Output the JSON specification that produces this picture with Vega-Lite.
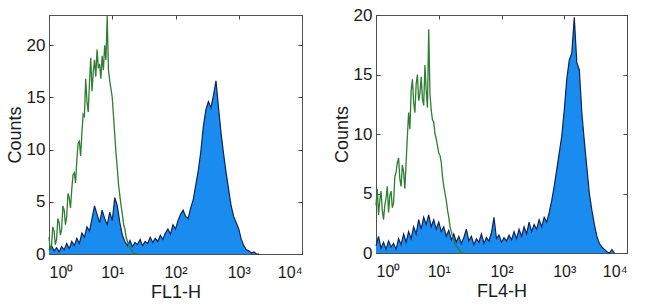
{
  "$schema": "https://vega.github.io/schema/vega-lite/v6.json",
  "padding": {"left": 5, "top": 5, "right": 5, "bottom": 0},
  "background": "white",
  "config": {
    "view": {"stroke": "#505050", "strokeWidth": 1},
    "font": "Liberation Sans",
    "axis": {
      "grid": false,
      "domain": false,
      "tickSize": -4,
      "tickColor": "#444444",
      "labelFont": "Liberation Sans",
      "labelFontSize": 17,
      "labelColor": "#1a1a1a",
      "titleFont": "Liberation Sans",
      "titleFontSize": 18,
      "titleFontWeight": "normal",
      "titleColor": "#1a1a1a"
    },
    "axisLeft": {"labelPadding": 8, "titlePadding": 2, "minExtent": 0},
    "axisBottom": {"labelPadding": 14, "titlePadding": 3, "labelFontSize": 16, "minExtent": 0},
    "axisTop": {"minExtent": 0, "maxExtent": 0},
    "axisRight": {"minExtent": 0, "maxExtent": 0}
  },
  "datasets": {
    "fl1_stained": [
      {"e":0.00,"n":0.4},{"e":0.04,"n":0.8},{"e":0.08,"n":0.3},{"e":0.12,"n":0.6},{"e":0.16,"n":0.2},{"e":0.20,"n":0.7},{"e":0.24,"n":0.4},{"e":0.28,"n":1.0},{"e":0.32,"n":0.5},{"e":0.36,"n":1.2},{"e":0.40,"n":0.8},{"e":0.44,"n":1.5},{"e":0.48,"n":1.0},{"e":0.52,"n":2.0},{"e":0.56,"n":1.6},{"e":0.60,"n":2.6},{"e":0.64,"n":2.2},{"e":0.68,"n":3.4},{"e":0.72,"n":4.6},{"e":0.76,"n":3.8},{"e":0.80,"n":3.0},{"e":0.84,"n":4.2},{"e":0.88,"n":3.4},{"e":0.92,"n":2.8},{"e":0.96,"n":4.0},{"e":1.00,"n":3.2},{"e":1.04,"n":5.4},{"e":1.08,"n":4.6},{"e":1.12,"n":3.0},{"e":1.16,"n":1.8},{"e":1.20,"n":1.2},{"e":1.24,"n":0.8},{"e":1.28,"n":1.3},{"e":1.32,"n":0.7},{"e":1.36,"n":1.1},{"e":1.40,"n":0.9},{"e":1.44,"n":1.4},{"e":1.48,"n":0.8},{"e":1.52,"n":1.2},{"e":1.56,"n":1.0},{"e":1.60,"n":1.6},{"e":1.64,"n":1.1},{"e":1.68,"n":1.5},{"e":1.72,"n":1.2},{"e":1.76,"n":1.8},{"e":1.80,"n":1.4},{"e":1.84,"n":2.0},{"e":1.88,"n":2.4},{"e":1.92,"n":1.9},{"e":1.96,"n":2.8},{"e":2.00,"n":2.4},{"e":2.04,"n":3.2},{"e":2.08,"n":3.8},{"e":2.12,"n":4.2},{"e":2.16,"n":3.6},{"e":2.20,"n":3.4},{"e":2.24,"n":4.4},{"e":2.28,"n":5.2},{"e":2.32,"n":6.6},{"e":2.36,"n":8.0},{"e":2.40,"n":9.8},{"e":2.44,"n":12.2},{"e":2.48,"n":13.8},{"e":2.52,"n":14.6},{"e":2.56,"n":14.0},{"e":2.60,"n":15.2},{"e":2.64,"n":16.6},{"e":2.68,"n":14.0},{"e":2.72,"n":11.6},{"e":2.76,"n":9.6},{"e":2.80,"n":7.8},{"e":2.84,"n":6.2},{"e":2.88,"n":4.6},{"e":2.92,"n":3.6},{"e":2.96,"n":3.0},{"e":3.00,"n":2.4},{"e":3.04,"n":1.4},{"e":3.08,"n":0.8},{"e":3.12,"n":0.4},{"e":3.16,"n":0.3},{"e":3.20,"n":0.1},{"e":3.24,"n":0.2},{"e":3.28,"n":0.0},{"e":3.32,"n":0.0}
    ],
    "fl1_isotype": [
      {"e":0.00,"n":1.6},{"e":0.02,"n":0.4},{"e":0.04,"n":0.8},{"e":0.06,"n":2.6},{"e":0.08,"n":2.2},{"e":0.10,"n":0.9},{"e":0.12,"n":1.4},{"e":0.14,"n":3.4},{"e":0.16,"n":3.0},{"e":0.18,"n":1.8},{"e":0.20,"n":2.4},{"e":0.22,"n":4.6},{"e":0.24,"n":4.2},{"e":0.26,"n":2.8},{"e":0.28,"n":3.6},{"e":0.30,"n":5.8},{"e":0.32,"n":5.4},{"e":0.34,"n":4.4},{"e":0.36,"n":6.2},{"e":0.38,"n":7.6},{"e":0.40,"n":7.8},{"e":0.42,"n":6.8},{"e":0.44,"n":9.0},{"e":0.46,"n":10.6},{"e":0.48,"n":10.8},{"e":0.50,"n":9.4},{"e":0.52,"n":11.6},{"e":0.54,"n":13.4},{"e":0.56,"n":13.2},{"e":0.58,"n":16.8},{"e":0.60,"n":14.6},{"e":0.62,"n":13.6},{"e":0.64,"n":16.4},{"e":0.66,"n":18.8},{"e":0.68,"n":15.6},{"e":0.70,"n":17.4},{"e":0.72,"n":18.6},{"e":0.74,"n":17.0},{"e":0.76,"n":19.6},{"e":0.78,"n":17.8},{"e":0.80,"n":18.2},{"e":0.82,"n":16.8},{"e":0.84,"n":19.0},{"e":0.86,"n":17.6},{"e":0.88,"n":20.0},{"e":0.90,"n":18.6},{"e":0.92,"n":22.8},{"e":0.94,"n":17.6},{"e":0.96,"n":16.6},{"e":0.98,"n":15.8},{"e":1.00,"n":15.0},{"e":1.02,"n":13.2},{"e":1.04,"n":11.4},{"e":1.06,"n":9.6},{"e":1.08,"n":8.2},{"e":1.10,"n":6.6},{"e":1.12,"n":5.6},{"e":1.14,"n":4.6},{"e":1.16,"n":3.8},{"e":1.18,"n":2.8},{"e":1.20,"n":2.4},{"e":1.22,"n":1.6},{"e":1.24,"n":1.2},{"e":1.26,"n":0.8},{"e":1.28,"n":0.6},{"e":1.32,"n":0.2},{"e":1.36,"n":0.0},{"e":1.40,"n":0.0}
    ],
    "fl4_stained": [
      {"e":0.00,"n":0.6},{"e":0.04,"n":1.4},{"e":0.08,"n":0.4},{"e":0.12,"n":0.9},{"e":0.16,"n":0.3},{"e":0.20,"n":1.0},{"e":0.24,"n":0.5},{"e":0.28,"n":0.8},{"e":0.32,"n":0.3},{"e":0.36,"n":1.2},{"e":0.40,"n":0.7},{"e":0.44,"n":1.6},{"e":0.48,"n":0.9},{"e":0.52,"n":1.8},{"e":0.56,"n":1.2},{"e":0.60,"n":2.2},{"e":0.64,"n":1.6},{"e":0.68,"n":2.8},{"e":0.72,"n":2.0},{"e":0.76,"n":3.0},{"e":0.80,"n":2.4},{"e":0.84,"n":3.2},{"e":0.88,"n":2.2},{"e":0.92,"n":2.8},{"e":0.96,"n":2.0},{"e":1.00,"n":2.6},{"e":1.04,"n":1.8},{"e":1.08,"n":2.2},{"e":1.12,"n":1.4},{"e":1.16,"n":1.9},{"e":1.20,"n":1.1},{"e":1.24,"n":1.6},{"e":1.28,"n":0.9},{"e":1.32,"n":1.4},{"e":1.36,"n":0.8},{"e":1.40,"n":1.3},{"e":1.44,"n":2.0},{"e":1.48,"n":1.0},{"e":1.52,"n":1.4},{"e":1.56,"n":0.7},{"e":1.60,"n":1.2},{"e":1.64,"n":0.9},{"e":1.68,"n":1.6},{"e":1.72,"n":0.8},{"e":1.76,"n":1.3},{"e":1.80,"n":1.0},{"e":1.84,"n":1.7},{"e":1.88,"n":3.0},{"e":1.92,"n":1.2},{"e":1.96,"n":1.5},{"e":2.00,"n":0.9},{"e":2.04,"n":1.3},{"e":2.08,"n":1.0},{"e":2.12,"n":1.5},{"e":2.16,"n":1.1},{"e":2.20,"n":1.8},{"e":2.24,"n":1.2},{"e":2.28,"n":2.0},{"e":2.32,"n":1.4},{"e":2.36,"n":2.2},{"e":2.40,"n":1.6},{"e":2.44,"n":2.6},{"e":2.48,"n":1.8},{"e":2.52,"n":2.4},{"e":2.56,"n":2.0},{"e":2.60,"n":2.8},{"e":2.64,"n":2.2},{"e":2.68,"n":3.0},{"e":2.72,"n":2.6},{"e":2.76,"n":3.4},{"e":2.80,"n":4.4},{"e":2.84,"n":5.6},{"e":2.88,"n":7.0},{"e":2.92,"n":8.4},{"e":2.96,"n":9.8},{"e":3.00,"n":12.0},{"e":3.04,"n":14.6},{"e":3.08,"n":16.2},{"e":3.12,"n":16.8},{"e":3.16,"n":19.8},{"e":3.20,"n":16.0},{"e":3.24,"n":15.4},{"e":3.28,"n":11.8},{"e":3.32,"n":9.4},{"e":3.36,"n":7.2},{"e":3.40,"n":5.0},{"e":3.44,"n":3.6},{"e":3.48,"n":2.4},{"e":3.52,"n":1.4},{"e":3.56,"n":0.8},{"e":3.60,"n":0.5},{"e":3.64,"n":0.3},{"e":3.68,"n":0.1},{"e":3.72,"n":0.0},{"e":3.76,"n":0.3},{"e":3.80,"n":0.0}
    ],
    "fl4_isotype": [
      {"e":0.00,"n":4.0},{"e":0.02,"n":5.4},{"e":0.04,"n":3.2},{"e":0.06,"n":4.4},{"e":0.08,"n":5.2},{"e":0.10,"n":3.6},{"e":0.12,"n":2.8},{"e":0.14,"n":4.0},{"e":0.16,"n":4.6},{"e":0.18,"n":5.6},{"e":0.20,"n":3.4},{"e":0.22,"n":4.8},{"e":0.24,"n":5.2},{"e":0.26,"n":3.8},{"e":0.28,"n":4.2},{"e":0.30,"n":6.4},{"e":0.32,"n":6.8},{"e":0.34,"n":7.6},{"e":0.36,"n":8.0},{"e":0.38,"n":6.2},{"e":0.40,"n":5.6},{"e":0.42,"n":7.4},{"e":0.44,"n":6.8},{"e":0.46,"n":5.4},{"e":0.48,"n":7.6},{"e":0.50,"n":9.8},{"e":0.52,"n":11.8},{"e":0.54,"n":10.4},{"e":0.56,"n":13.6},{"e":0.58,"n":14.6},{"e":0.60,"n":12.6},{"e":0.62,"n":11.8},{"e":0.64,"n":14.2},{"e":0.66,"n":15.0},{"e":0.68,"n":12.8},{"e":0.70,"n":13.4},{"e":0.72,"n":14.8},{"e":0.74,"n":13.0},{"e":0.76,"n":12.4},{"e":0.78,"n":15.8},{"e":0.80,"n":13.6},{"e":0.82,"n":12.2},{"e":0.84,"n":18.8},{"e":0.86,"n":13.4},{"e":0.88,"n":12.0},{"e":0.90,"n":11.2},{"e":0.92,"n":11.0},{"e":0.94,"n":10.0},{"e":0.96,"n":9.6},{"e":0.98,"n":9.0},{"e":1.00,"n":8.4},{"e":1.02,"n":8.2},{"e":1.04,"n":7.6},{"e":1.06,"n":6.4},{"e":1.08,"n":5.6},{"e":1.10,"n":5.0},{"e":1.12,"n":4.4},{"e":1.14,"n":3.6},{"e":1.16,"n":3.0},{"e":1.18,"n":2.2},{"e":1.20,"n":1.8},{"e":1.22,"n":1.4},{"e":1.24,"n":1.2},{"e":1.26,"n":0.8},{"e":1.28,"n":0.6},{"e":1.32,"n":0.3},{"e":1.36,"n":0.0},{"e":1.40,"n":0.0}
    ]
  },
  "spacing": 29,
  "hconcat": [
    {
      "width": 253,
      "height": 239,
      "layer": [
        {
          "data": {"name": "fl1_stained"},
          "mark": {"type": "area", "color": "#1a8cf0"},
          "encoding": {
            "x": {"field": "e", "type": "quantitative", "scale": {"domain": [0, 4], "nice": false},
                  "axis": {"orient": "bottom", "values": [0, 1, 2, 3, 4], "title": "FL1-H",
                           "labelExpr": "['10⁰','10¹','10²','10³','10⁴'][datum.value]"}},
            "y": {"field": "n", "type": "quantitative", "scale": {"domain": [0, 22.9], "nice": false},
                  "axis": {"orient": "left", "values": [0, 5, 10, 15, 20], "title": "Counts"}}
          }
        },
        {
          "data": {"name": "fl1_stained"},
          "mark": {"type": "line", "color": "#0b2456", "strokeWidth": 1.2},
          "encoding": {
            "x": {"field": "e", "type": "quantitative", "axis": null},
            "y": {"field": "n", "type": "quantitative", "axis": null}
          }
        },
        {
          "data": {"name": "fl1_isotype"},
          "mark": {"type": "line", "color": "#2e7d32", "strokeWidth": 1.3},
          "encoding": {
            "x": {"field": "e", "type": "quantitative",
                  "axis": {"orient": "top", "values": [0, 1, 2, 3, 4], "labels": false, "title": null}},
            "y": {"field": "n", "type": "quantitative",
                  "axis": {"orient": "right", "values": [0, 5, 10, 15, 20], "labels": false, "title": null}}
          }
        }
      ],
      "resolve": {"axis": {"x": "independent", "y": "independent"}}
    },
    {
      "width": 251,
      "height": 238,
      "layer": [
        {
          "data": {"name": "fl4_stained"},
          "mark": {"type": "area", "color": "#1a8cf0"},
          "encoding": {
            "x": {"field": "e", "type": "quantitative", "scale": {"domain": [0, 4], "nice": false},
                  "axis": {"orient": "bottom", "values": [0, 1, 2, 3, 4], "title": "FL4-H",
                           "labelExpr": "['10⁰','10¹','10²','10³','10⁴'][datum.value]"}},
            "y": {"field": "n", "type": "quantitative", "scale": {"domain": [0, 20], "nice": false},
                  "axis": {"orient": "left", "values": [0, 5, 10, 15, 20], "title": "Counts"}}
          }
        },
        {
          "data": {"name": "fl4_stained"},
          "mark": {"type": "line", "color": "#0b2456", "strokeWidth": 1.2},
          "encoding": {
            "x": {"field": "e", "type": "quantitative", "axis": null},
            "y": {"field": "n", "type": "quantitative", "axis": null}
          }
        },
        {
          "data": {"name": "fl4_isotype"},
          "mark": {"type": "line", "color": "#2e7d32", "strokeWidth": 1.3},
          "encoding": {
            "x": {"field": "e", "type": "quantitative",
                  "axis": {"orient": "top", "values": [0, 1, 2, 3, 4], "labels": false, "title": null}},
            "y": {"field": "n", "type": "quantitative",
                  "axis": {"orient": "right", "values": [0, 5, 10, 15, 20], "labels": false, "title": null}}
          }
        }
      ],
      "resolve": {"axis": {"x": "independent", "y": "independent"}}
    }
  ]
}
